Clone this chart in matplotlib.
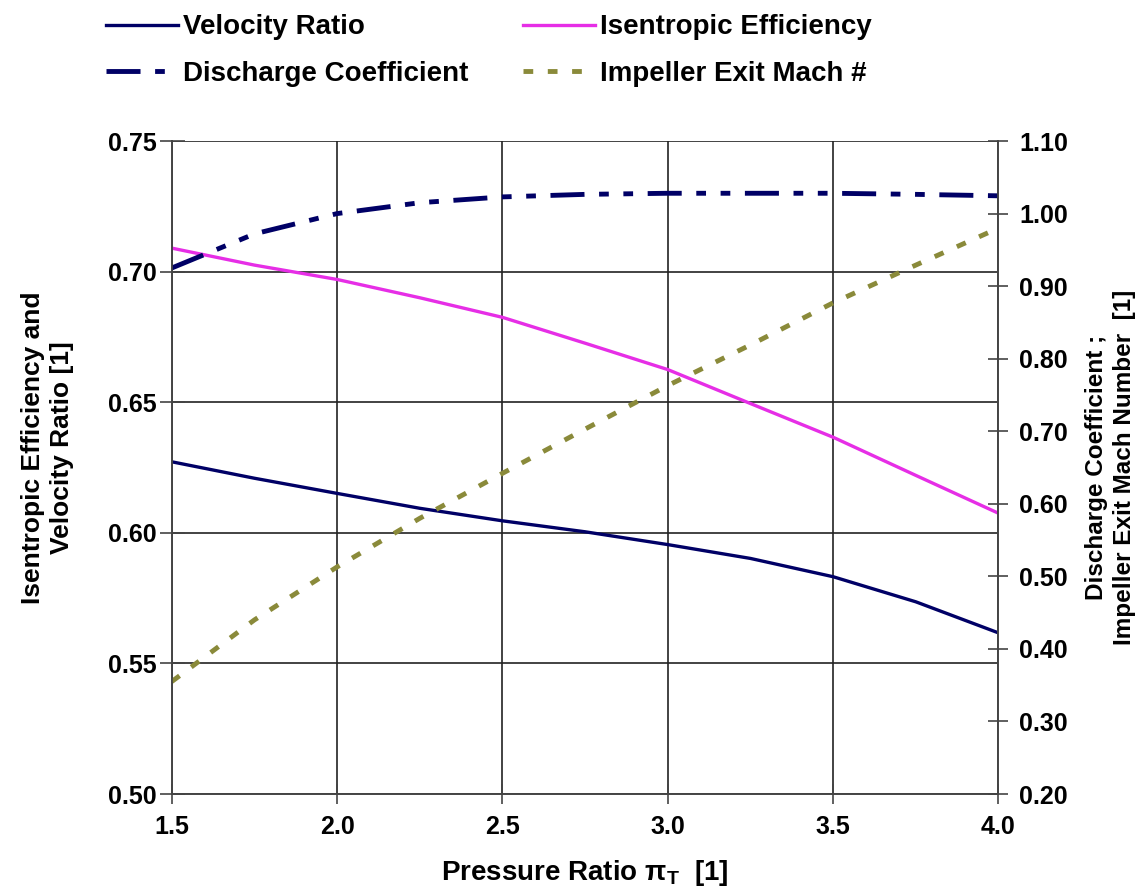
import matplotlib
matplotlib.use("Agg")
import matplotlib.pyplot as plt

plt.rcParams['font.family'] = ['Liberation Sans', 'DejaVu Sans']
plt.rcParams['font.weight'] = 'bold'

pressure_ratio = [1.5, 1.75, 2.0, 2.25, 2.5, 2.75, 3.0, 3.25, 3.5, 3.75, 4.0]
velocity_ratio = [0.6272, 0.6209, 0.6151, 0.6094, 0.6046, 0.6004, 0.5955, 0.5902, 0.5832, 0.5736, 0.5617]
isentropic_eff = [0.709, 0.7025, 0.697, 0.690, 0.6825, 0.6726, 0.6625, 0.6495, 0.6366, 0.622, 0.6075]
discharge_coef = [0.925, 0.972, 1.000, 1.015, 1.023, 1.0265, 1.028, 1.028, 1.028, 1.0265, 1.0245]
exit_mach = [0.355, 0.440, 0.513, 0.580, 0.642, 0.703, 0.763, 0.819, 0.877, 0.929, 0.980]

x_ticks = [1.5, 2.0, 2.5, 3.0, 3.5, 4.0]
left_ticks = [0.50, 0.55, 0.60, 0.65, 0.70, 0.75]
right_ticks = [0.20, 0.30, 0.40, 0.50, 0.60, 0.70, 0.80, 0.90, 1.00, 1.10]

fig = plt.figure(figsize=(11.45, 8.96), dpi=100)
ax = fig.add_axes([0.150, 0.1138, 0.722, 0.7288])
ax2 = ax.twinx()

l1, = ax.plot(pressure_ratio, velocity_ratio, color='#000066', lw=2.4,
              label='Velocity Ratio')
l2, = ax.plot(pressure_ratio, isentropic_eff, color='#e62ee6', lw=2.4,
              label='Isentropic Efficiency')
l3, = ax2.plot(pressure_ratio, discharge_coef, color='#000066', lw=3.5,
               dashes=(7, 3, 2, 3, 2, 3), label='Discharge Coefficient')
l4, = ax2.plot(pressure_ratio, exit_mach, color='#8a8a3a', lw=3.5,
               dashes=(2, 3), label='Impeller Exit Mach #')

ax.set_xlim(1.5, 4.0)
ax.set_ylim(0.50, 0.75)
ax2.set_ylim(0.20, 1.10)
ax.set_xticks(x_ticks)
ax.set_xticklabels([f'{v:.1f}' for v in x_ticks])
ax.set_yticks(left_ticks)
ax.set_yticklabels([f'{v:.2f}' for v in left_ticks])
ax2.set_yticks(right_ticks)
ax2.set_yticklabels([f'{v:.2f}' for v in right_ticks])

ax.grid(True, color='#222222', lw=1.2)
ax.set_axisbelow(True)
for a in (ax, ax2):
    for s in a.spines.values():
        s.set_color('#444444')
        s.set_linewidth(1.2)
ax.spines['top'].set_visible(False)
ax2.spines['top'].set_visible(False)
ax.tick_params(axis='x', direction='inout', length=14, width=1.2,
               color='#444444', labelsize=18, pad=8)
ax.tick_params(axis='y', direction='inout', length=18, width=1.2,
               color='#444444', labelsize=18, pad=2)
ax2.tick_params(axis='y', direction='inout', length=14, width=1.2,
                color='#444444', labelsize=18, pad=8)

ax.set_xlabel(r'Pressure Ratio $\mathregular{\pi_T}$  [1]', fontsize=20,
              fontweight='bold', labelpad=14)
ax.set_ylabel('Isentropic Efficiency and\nVelocity Ratio [1]', fontsize=19,
              fontweight='bold', linespacing=1.25)
ax.yaxis.set_label_coords(-0.118, 0.53)
ax2.set_ylabel('Discharge Coefficient ;\nImpeller Exit Mach Number  [1]',
               fontsize=17.5, fontweight='bold', labelpad=12, linespacing=1.3)

fig.legend(handles=[l1, l3, l2, l4], ncol=2, loc='upper left',
           bbox_to_anchor=(0.0926, 0.984), frameon=False, fontsize=20,
           handlelength=2.6, handletextpad=0.18, columnspacing=1.95,
           labelspacing=0.75, borderpad=0, borderaxespad=0)

fig.savefig('out.png', dpi=100)
